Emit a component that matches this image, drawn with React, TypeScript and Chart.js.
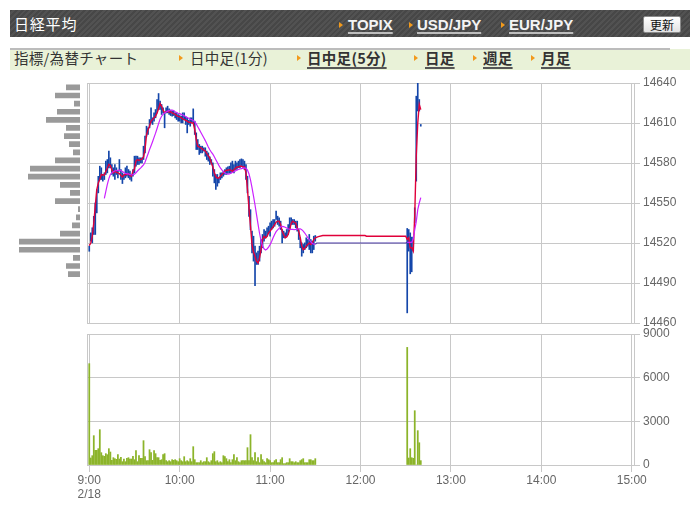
import React, { useEffect, useRef } from 'react';
import { Chart, registerables } from 'chart.js';

Chart.register(...registerables);

// ---------- time axis: minutes after 9:00 ----------
const HOUR_TICKS = [0, 60, 120, 180, 240, 300, 360];
const HOUR_LABELS = ['9:00', '10:00', '11:00', '12:00', '13:00', '14:00', '15:00'];
const DATE_LABEL = '2/18';
const X_MIN = -1.5;
const X_MAX = 361.5;

// ---------- value axes ----------
const PRICE_MIN = 14460;
const PRICE_MAX = 14640;
const PRICE_STEP = 30;
const VOL_MAX = 9000;
const VOL_STEP = 3000;

const AFTERNOON_START = 211; // 12:31

// ---------- morning session (9:00 .. 11:30, one value per minute) ----------
const morningHigh = [
  14517.6, 14527.6, 14531.4, 14540, 14550, 14560, 14570, 14577.6, 14576.4, 14571.4,
  14572.6, 14581.4, 14582.6, 14588.9, 14583.9, 14578.9, 14576.4, 14578.9, 14576.4, 14573.9,
  14582.6, 14575.1, 14572.6, 14571.4, 14576.4, 14577.6, 14575.1, 14573.9, 14571.4, 14575.1,
  14585.1, 14585.1, 14585.1, 14583.9, 14583.9, 14583.9, 14592.6, 14600.1, 14607.6, 14606.4,
  14612.6, 14621.4, 14613.9, 14617.6, 14620.1, 14627.6, 14632.1, 14626.4, 14623.9, 14621.4,
  14617.6, 14621.4, 14622.6, 14620.6, 14619.6, 14618.9, 14618.9, 14617.6, 14617.6, 14616.4,
  14615.6, 14615.1, 14617.6, 14617.6, 14614.6, 14613.9, 14612.1, 14613.9, 14613.9, 14620.6,
  14611.4, 14602.6, 14597.6, 14593.9, 14592.6, 14592.6, 14591.4, 14591.4, 14588.9, 14587.6,
  14584.6, 14582.6, 14580.1, 14575.1, 14571.4, 14571.4, 14568.9, 14572.6, 14572.6, 14573.9,
  14575.1, 14576.4, 14577.1, 14577.6, 14580.1, 14581.4, 14578.9, 14581.4, 14580.1, 14581.4,
  14582.6, 14583.1, 14582.6, 14581.4, 14578.9, 14570.1, 14555, 14545, 14528.9, 14525.1,
  14517.6, 14512.6, 14513.9, 14517.6, 14522.6, 14526.4, 14530.1, 14528.9, 14531.4, 14532.6,
  14535.1, 14536.4, 14537.6, 14537.6, 14543.9, 14540.1, 14538.9, 14536.4, 14530.1, 14528.9,
  14527.6, 14530.1, 14533.9, 14538.9, 14538.9, 14537.6, 14537.6, 14536.4, 14536.4, 14530.1,
  14523.9, 14520.1, 14518.9, 14520.1, 14523.9, 14522.6, 14526.4, 14522.6, 14521.4, 14525.1,
  14525.6,
];
const morningLow = [
  14513.8, 14521.4, 14520.1, 14526.4, 14526.4, 14542.6, 14557.6, 14567.6, 14567.6, 14566.4,
  14567.6, 14571.4, 14572.6, 14576.4, 14576.4, 14571.4, 14570.1, 14567.6, 14571.4, 14568.9,
  14573.9, 14567.6, 14564.6, 14567.6, 14568.9, 14570.1, 14568.9, 14567.6, 14566.4, 14570.1,
  14572.6, 14577.6, 14578.9, 14578.9, 14580.1, 14580.1, 14582.6, 14587.6, 14600.1, 14601.4,
  14606.4, 14610.1, 14608.9, 14611.4, 14613.9, 14617.6, 14620, 14620.1, 14616.4, 14617.6,
  14606.4, 14617.6, 14617.6, 14616.4, 14615.6, 14615.1, 14615.6, 14613.9, 14612.6, 14611.4,
  14611.4, 14610.1, 14610.1, 14612.6, 14608.9, 14602.6, 14608.9, 14607.6, 14610.6, 14610.1,
  14601.4, 14590.1, 14590.1, 14586.4, 14587.6, 14587.6, 14588.9, 14585.1, 14582.6, 14581.4,
  14578.9, 14580.1, 14570.1, 14565.1, 14560.1, 14562.6, 14565.1, 14567.6, 14568.9, 14570.1,
  14571.4, 14571.4, 14572.1, 14572.6, 14572.6, 14573.9, 14572.6, 14575.1, 14575.1, 14576.4,
  14576.4, 14578.1, 14577.1, 14575.1, 14567.6, 14557.6, 14540, 14530, 14512.6, 14506.4,
  14488, 14503.9, 14503.9, 14506.4, 14512.6, 14516.4, 14521.4, 14523.9, 14525.1, 14527.6,
  14525.1, 14530.1, 14531.4, 14532.6, 14537.6, 14533.9, 14532.6, 14530.1, 14520.1, 14523.9,
  14523.9, 14525.1, 14526.4, 14530.1, 14533.9, 14533.9, 14533.9, 14531.4, 14528.9, 14522.6,
  14516.4, 14510.1, 14512.6, 14515.1, 14516.4, 14517.6, 14515.1, 14512.6, 14512.6, 14515.1,
  14521.4,
];
const morningClose = [
  14518, 14520, 14525, 14535, 14548, 14560, 14565, 14567.6, 14571.4, 14571,
  14571, 14573.8, 14576, 14579, 14578, 14575, 14572.6, 14574, 14573, 14572.6,
  14572, 14570.6, 14569.6, 14571, 14571.4, 14571.4, 14572, 14570.6, 14570, 14574,
  14575.6, 14581.4, 14582.6, 14582, 14582.6, 14583, 14584.6, 14590, 14601, 14605,
  14607.6, 14611.4, 14612.6, 14614, 14615, 14617.6, 14620.6, 14624.6, 14622.6, 14619.6,
  14617.6, 14618.6, 14618.8, 14618, 14618.4, 14617.6, 14617, 14616.4, 14615.6, 14615,
  14614.6, 14614, 14613, 14612.6, 14612, 14611.4, 14610.6, 14610.6, 14610, 14610,
  14605, 14597.6, 14592.6, 14592, 14591.4, 14590.6, 14589.6, 14589, 14587, 14585.6,
  14583.8, 14580, 14577, 14572.6, 14569.6, 14568.8, 14568.8, 14570, 14571.4, 14572.6,
  14573.8, 14574.6, 14574.6, 14575, 14574.6, 14573.8, 14575, 14576, 14577, 14577,
  14577.6, 14577.6, 14577, 14577, 14572.6, 14560, 14546, 14532.6, 14518.8, 14513,
  14510, 14506.4, 14505, 14508.8, 14515, 14522.6, 14525, 14523.8, 14525, 14527.6,
  14528.8, 14530.6, 14532, 14533.8, 14535.6, 14536.4, 14536.4, 14533.9, 14528.9, 14526.4,
  14523.9, 14524.6, 14526.4, 14530, 14534.6, 14536.4, 14535.6, 14535, 14531.4, 14529,
  14524, 14518, 14515, 14515.9, 14517.6, 14518.9, 14520, 14518.9, 14520, 14522.6,
  14523.9,
];
const morningMA = [
  null, null, null, null, null, null, null, null, null, null,
  14553.4, 14558.8, 14563.9, 14568.3, 14571.3, 14572.8, 14573.5, 14574.2, 14574.3, 14574.5,
  14574.6, 14574.3, 14573.6, 14572.8, 14572.2, 14571.8, 14571.8, 14571.4, 14571.1, 14571.3,
  14571.6, 14572.7, 14574.0, 14575.1, 14576.2, 14577.4, 14578.6, 14580.6, 14583.7, 14586.8,
  14590.0, 14593.0, 14596.0, 14599.2, 14602.4, 14605.9, 14609.5, 14612.9, 14615.1, 14616.6,
  14617.6, 14618.3, 14618.9, 14619.3, 14619.6, 14619.6, 14619.3, 14618.5, 14617.8, 14617.3,
  14617.0, 14616.5, 14616.0, 14615.4, 14614.8, 14614.2, 14613.5, 14612.9, 14612.4, 14611.9,
  14610.9, 14609.3, 14607.2, 14605.2, 14603.1, 14601.0, 14598.9, 14596.8, 14594.5, 14592.0,
  14589.9, 14588.2, 14586.6, 14584.7, 14582.5, 14580.3, 14578.2, 14576.3, 14574.8, 14573.5,
  14572.5, 14571.9, 14571.7, 14571.9, 14572.4, 14572.9, 14573.5, 14574.1, 14574.7, 14575.1,
  14575.5, 14575.8, 14576.1, 14576.3, 14576.1, 14574.7, 14571.8, 14567.4, 14561.6, 14555.2,
  14548.5, 14541.3, 14534.1, 14527.3, 14521.6, 14517.8, 14515.7, 14514.8, 14515.5, 14516.9,
  14518.8, 14521.2, 14523.9, 14526.4, 14528.5, 14529.9, 14531.0, 14532.0, 14532.4, 14532.3,
  14531.8, 14531.2, 14530.6, 14530.3, 14530.2, 14530.2, 14530.1, 14530.2, 14530.4, 14530.7,
  14530.7, 14530.0, 14528.9, 14527.5, 14525.8, 14524.0, 14522.5, 14520.9, 14519.7, 14519.1,
  14519.1,
];
const morningVolume = [
  6962, 481, 641, 2015, 1008, 1008, 1122, 2427, 847, 641,
  595, 779, 710, 1122, 893, 321, 504, 435, 389, 710,
  412, 527, 229, 412, 229, 458, 504, 412, 412, 595,
  366, 985, 229, 641, 458, 458, 1672, 573, 298, 298,
  1053, 847, 321, 985, 779, 504, 504, 321, 366, 710,
  779, 298, 229, 298, 229, 366, 321, 366, 298, 229,
  435, 298, 229, 573, 229, 298, 229, 435, 229, 1260,
  366, 160, 160, 160, 298, 160, 229, 229, 504, 229,
  160, 298, 779, 916, 229, 298, 160, 229, 160, 641,
  573, 435, 229, 366, 160, 366, 710, 298, 504, 229,
  160, 298, 298, 298, 298, 1191, 298, 2084, 504, 298,
  847, 229, 504, 160, 710, 366, 229, 160, 435, 366,
  298, 160, 160, 298, 366, 160, 160, 366, 504, 92,
  92, 160, 160, 435, 229, 229, 160, 229, 160, 160,
  298, 366, 435, 160, 160, 160, 366, 366, 298, 298,
  435,
];

// ---------- lunch break (lines only) ----------
const lunchCloseMinutes = [152, 155, 183, 184, 210];
const lunchClose = [14524.8, 14525.6, 14525.6, 14525.1, 14525.1];
const lunchMAMinutes = [151, 210];
const lunchMA = [14520, 14520];

// ---------- afternoon session (12:31 .. 12:40) ----------
const afternoonHigh = [14530.9, 14530.1, 14527.6, 14524.4, 14524.4, 14546.4, 14630.1, 14646, 14627.6, 14608.9];
const afternoonLow = [14467.6, 14513.9, 14496.9, 14498.4, 14514.0, 14535.1, 14566.4, 14619, 14619, 14607.6];
const afternoonClose = [14522.6, 14524, 14516.4, 14516.4, 14514, 14541, 14585, 14610, 14624, 14620];
const afternoonMA = [14520.5, 14520.5, 14520.5, 14520.5, 14523, 14530, 14536, 14545, 14550, 14554];
const afternoonVolume = [8080, 480, 1120, 500, 460, 3730, 0, 2360, 1530, 300];

// ---------- volume-by-price profile (top band first) ----------
const profileBands = [
  '14640', '14634', '14628', '14622', '14616', '14610', '14604', '14598',
  '14592', '14586', '14580', '14574', '14568', '14562', '14556', '14550',
  '14544', '14538', '14532', '14526', '14520', '14514', '14508', '14502',
];
const profileVolume = [14, 25, 6, 23, 34, 14, 16, 11, 7, 25, 50, 52, 20, 10, 25, 2, 4, 8, 20, 61, 61, 7, 14, 12];
const PROFILE_MAX = 80;

// ---------- styles ----------
const GRID = '#c8c8c8';
const TICK_COLOR = '#666666';
const AX_FONT = { family: '"Liberation Sans", Arial, sans-serif', size: 12 };
const BLUE = '#1446aa';
const RED = '#e0003a';
const MAGENTA = '#cc22ff';
const LUNCH_LINE = '#4a3aa8';
const VOL_GREEN = '#8cb42a';
const PROFILE_GRAY = '#9a9a9a';
const CJK = '"Noto Sans CJK JP", sans-serif';
const LATIN = '"Liberation Sans", Arial, sans-serif';

const W = 695;
const H = 518;

function hourTicks(scale: any) {
  scale.ticks = HOUR_TICKS.map((v) => ({ value: v }));
}

function leftBorderAxis() {
  return {
    type: 'linear',
    position: 'left',
    display: true,
    grid: { display: false },
    ticks: { display: false },
    border: { display: true, color: GRID, width: 1 },
    afterFit: (s: any) => { s.width = 0; },
  };
}

const plainNumber = (v: any) => String(v);

export default function App() {
  const mainRef = useRef<HTMLCanvasElement>(null);
  const volRef = useRef<HTMLCanvasElement>(null);
  const profRef = useRef<HTMLCanvasElement>(null);

  useEffect(() => {
    const rangeBars: any[] = [];
    morningHigh.forEach((h, i) => rangeBars.push({ x: i, y: [morningLow[i], h] }));
    afternoonHigh.forEach((h, i) => rangeBars.push({ x: AFTERNOON_START + i, y: [afternoonLow[i], h] }));

    const closeLine: any[] = [];
    morningClose.forEach((c, i) => closeLine.push({ x: i, y: c }));
    lunchCloseMinutes.forEach((m, i) => closeLine.push({ x: m, y: lunchClose[i] }));
    afternoonClose.forEach((c, i) => closeLine.push({ x: AFTERNOON_START + i, y: c }));

    const maLine: any[] = [];
    morningMA.forEach((v, i) => { if (v !== null) maLine.push({ x: i, y: v }); });
    lunchMAMinutes.forEach((m, i) => maLine.push({ x: m, y: lunchMA[i] }));
    afternoonMA.forEach((v, i) => maLine.push({ x: AFTERNOON_START + i, y: v }));

    const volBars: any[] = [];
    morningVolume.forEach((v, i) => volBars.push({ x: i, y: v }));
    afternoonVolume.forEach((v, i) => volBars.push({ x: AFTERNOON_START + i, y: v }));

    const main = new Chart(mainRef.current as HTMLCanvasElement, {
      type: 'bar',
      data: {
        datasets: [
          {
            type: 'bar',
            data: rangeBars,
            backgroundColor: BLUE,
            barThickness: 1,
            order: 3,
          } as any,
          {
            type: 'line',
            data: closeLine,
            borderColor: RED,
            borderWidth: 1.4,
            pointRadius: 0,
            tension: 0,
            order: 2,
          } as any,
          {
            type: 'line',
            data: maLine,
            borderColor: MAGENTA,
            borderWidth: 1.2,
            pointRadius: 0,
            tension: 0,
            order: 1,
            segment: {
              borderColor: (ctx: any) =>
                ctx.p0.parsed.x >= 150 && ctx.p1.parsed.x <= AFTERNOON_START ? LUNCH_LINE : undefined,
            },
          } as any,
        ],
      },
      options: {
        animation: false,
        responsive: false,
        events: [],
        layout: { padding: { left: 87, top: 83, right: 0, bottom: H - 323 } },
        plugins: { legend: { display: false }, tooltip: { enabled: false } },
        scales: {
          x: {
            type: 'linear',
            min: X_MIN,
            max: X_MAX,
            offset: false,
            afterBuildTicks: hourTicks,
            afterFit: (s: any) => { s.height = 0; },
            grid: { color: GRID, offset: false, drawTicks: false },
            ticks: { display: false },
            border: { display: false },
          },
          y: {
            type: 'linear',
            position: 'right',
            min: PRICE_MIN,
            max: PRICE_MAX,
            ticks: { stepSize: PRICE_STEP, color: TICK_COLOR, font: AX_FONT, padding: 3, callback: plainNumber },
            grid: { color: GRID, tickLength: 6, tickColor: GRID },
            border: { display: true, color: GRID },
            afterFit: (s: any) => { s.width = W - 634; },
          },
          yl: leftBorderAxis(),
        } as any,
      },
    });

    const vol = new Chart(volRef.current as HTMLCanvasElement, {
      type: 'bar',
      data: {
        datasets: [
          {
            data: volBars,
            backgroundColor: VOL_GREEN,
            barThickness: 1.1,
          } as any,
        ],
      },
      options: {
        animation: false,
        responsive: false,
        events: [],
        layout: { padding: { left: 87, top: 334, right: 0, bottom: 0 } },
        plugins: { legend: { display: false }, tooltip: { enabled: false } },
        scales: {
          x: {
            type: 'linear',
            min: X_MIN,
            max: X_MAX,
            offset: false,
            afterBuildTicks: hourTicks,
            afterFit: (s: any) => { s.height = H - 465; },
            grid: { color: GRID, offset: false, drawTicks: true, tickLength: 7, tickColor: GRID },
            border: { display: false },
            ticks: {
              autoSkip: false,
              maxRotation: 0,
              padding: 2,
              color: TICK_COLOR,
              font: { ...AX_FONT, lineHeight: 14 / 12 },
              callback: (v: any) => {
                const i = HOUR_TICKS.indexOf(Number(v));
                if (i < 0) return '';
                return i === 0 ? [HOUR_LABELS[0], DATE_LABEL] : HOUR_LABELS[i];
              },
            },
          },
          y: {
            type: 'linear',
            position: 'right',
            min: 0,
            max: VOL_MAX,
            ticks: { stepSize: VOL_STEP, color: TICK_COLOR, font: AX_FONT, padding: 3, callback: plainNumber },
            grid: { color: GRID, tickLength: 6, tickColor: GRID },
            border: { display: true, color: GRID },
            afterFit: (s: any) => { s.width = W - 634; },
          },
          yl: leftBorderAxis(),
        } as any,
      },
    });

    const prof = new Chart(profRef.current as HTMLCanvasElement, {
      type: 'bar',
      data: {
        labels: profileBands,
        datasets: [
          {
            data: profileVolume,
            backgroundColor: PROFILE_GRAY,
            barPercentage: 0.7,
            categoryPercentage: 1,
          },
        ],
      },
      options: {
        indexAxis: 'y',
        animation: false,
        responsive: false,
        events: [],
        layout: { padding: { left: 0, top: 83.3, right: W - 80, bottom: H - 278.2 } },
        plugins: { legend: { display: false }, tooltip: { enabled: false } },
        scales: {
          x: { display: false, reverse: true, min: 0, max: PROFILE_MAX },
          y: { display: false },
        },
      },
    });

    return () => {
      main.destroy();
      vol.destroy();
      prof.destroy();
    };
  }, []);

  const canvasStyle: React.CSSProperties = { position: 'absolute', left: 0, top: 0, width: W, height: H };

  const tri = (left: number, top: number) => (
    <div
      style={{
        position: 'absolute', left, top, width: 0, height: 0,
        borderTop: '3.5px solid transparent', borderBottom: '3.5px solid transparent',
        borderLeft: '4px solid #f29a1c',
      }}
    />
  );

  const headLink = (left: number, text: string) => (
    <span
      style={{
        position: 'absolute', left, top: 17, fontFamily: LATIN, fontWeight: 700, fontSize: 15,
        lineHeight: '15px', color: '#f4f4f4', whiteSpace: 'nowrap',
        textDecoration: 'underline', textDecorationColor: '#bdbdbd',
        textDecorationThickness: '2px', textUnderlineOffset: '2px',
      }}
    >
      {text}
    </span>
  );

  const barItem = (left: number, text: string, link: boolean) => (
    <span
      style={{
        position: 'absolute', left, top: 51, fontFamily: CJK, fontSize: 14.5, lineHeight: '14px',
        color: '#333', whiteSpace: 'nowrap', letterSpacing: 0.3,
        fontWeight: link ? 700 : 400,
        textDecoration: link ? 'underline' : 'none', textDecorationColor: '#555',
        textDecorationThickness: '2px', textUnderlineOffset: '3px',
      }}
    >
      {text}
    </span>
  );

  return (
    <div style={{ position: 'fixed', left: 0, top: 0, width: W, height: H, background: '#fff', overflow: 'hidden' }}>
      {/* header bar */}
      <div
        style={{
          position: 'absolute', left: 10, top: 10, width: 680, height: 27,
          background: 'repeating-linear-gradient(135deg, #474747 0px, #474747 2px, #525252 2px, #525252 4px)',
        }}
      />
      <span
        style={{
          position: 'absolute', left: 14, top: 16, fontFamily: CJK, fontSize: 15, lineHeight: '15px',
          letterSpacing: 0.8, color: '#ffffff', whiteSpace: 'nowrap',
        }}
      >
        日経平均
      </span>
      {tri(339, 22)}
      {headLink(348, 'TOPIX')}
      {tri(409, 22)}
      {headLink(417, 'USD/JPY')}
      {tri(501, 22)}
      {headLink(509, 'EUR/JPY')}
      <div
        style={{
          position: 'absolute', left: 643, top: 16, width: 38, height: 17, boxSizing: 'border-box',
          border: '1px solid #8a8a8a', borderRadius: 2, background: 'linear-gradient(#ffffff, #e2e2e2)',
          fontFamily: CJK, fontSize: 12, lineHeight: '15px', textAlign: 'center', color: '#111',
        }}
      >
        更新
      </div>

      {/* sub bar */}
      <div style={{ position: 'absolute', left: 10, top: 49, width: 680, height: 21, background: '#e9f2d8' }} />
      <div style={{ position: 'absolute', left: 10, top: 47.5, width: 660, height: 2, background: '#bcbcbc' }} />
      {barItem(14, '指標/為替チャート', false)}
      {tri(179, 55)}
      {barItem(190, '日中足(1分)', false)}
      {tri(297, 55)}
      {barItem(307, '日中足(5分)', true)}
      {tri(414, 55)}
      {barItem(425, '日足', true)}
      {tri(473, 55)}
      {barItem(483, '週足', true)}
      {tri(531, 55)}
      {barItem(541, '月足', true)}

      <canvas ref={profRef} width={W} height={H} style={canvasStyle} />
      <canvas ref={volRef} width={W} height={H} style={canvasStyle} />
      <canvas ref={mainRef} width={W} height={H} style={canvasStyle} />
    </div>
  );
}
